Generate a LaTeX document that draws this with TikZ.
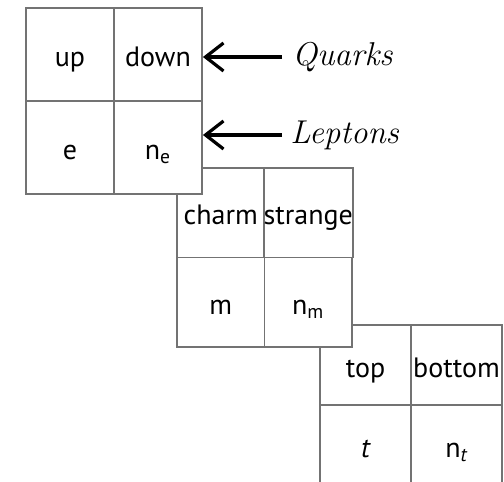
\documentclass[tikz,border=0pt]{standalone}
\usepackage{fontspec}
\setsansfont{PT Sans}
\usetikzlibrary{arrows.meta}
\begin{document}
\begin{tikzpicture}[x=0.5pt,y=-0.5pt,
    cell/.style={draw=black!55, line width=0.9pt, fill=white, inner sep=0pt,
        text height=12pt, text depth=0pt,
        font=\fontsize{14}{16}\selectfont\sffamily},
    bigcell/.style={cell, minimum width=44pt, minimum height=46.5pt},
    midcell/.style={cell, minimum width=43.75pt, minimum height=44.75pt},
    lowcell/.style={cell, minimum width=45.5pt, minimum height=40pt},
    tag/.style={anchor=west, inner sep=0pt, font=\fontsize{16.5}{20}\selectfont\itshape},
    pointer/.style={-{Straight Barb[length=9pt,width=14pt]}, line width=1.6pt}]

    \useasboundingbox (0,0) rectangle (504,482);
    \begin{scope}
    \clip (0,0) rectangle (504,482);

    % third generation
    \node [lowcell] (top) at (365.5,365) {top};
    \node [lowcell] (bottom) at (456.5,365) {bottom};
    \node [lowcell] (tau) at (365.5,445) {\itshape t};
    \node [lowcell] (ntau) at (456.5,445) {n\textsubscript{\itshape t}};

    % second generation
    \node [midcell] (charm) at (220.75,212.75) {charm};
    \node [midcell] (strange) at (308.25,212.75) {strange};
    \node [midcell] (mu) at (220.75,302.25) {m};
    \node [midcell] (nmu) at (308.25,302.25) {n\textsubscript{m}};

    % first generation
    \node [bigcell] (up) at (70,54.5) {up};
    \node [bigcell] (down) at (158,54.5) {down};
    \node [bigcell] (el) at (70,147.5) {e};
    \node [bigcell] (nel) at (158,147.5) {n\textsubscript{e}};
    \end{scope}

    \node [tag] (quarks) at (292,57) {Quarks};
    \node [tag] (leptons) at (290,135) {Leptons};

    \draw [pointer] (quarks.west) ++(-10,0) -- (quarks.west -| down.east);
    \draw [pointer] (leptons.west) ++(-8,0) -- (leptons.west -| nel.east);

\end{tikzpicture}
\end{document}
